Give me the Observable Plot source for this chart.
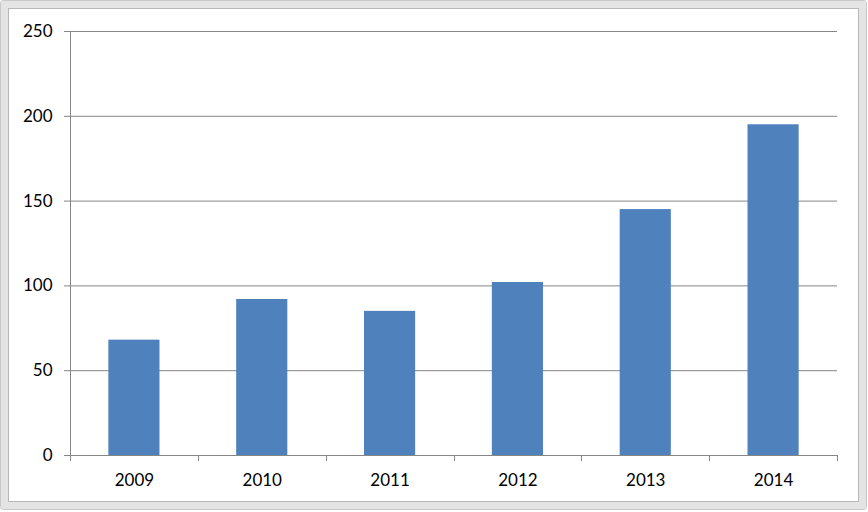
<!DOCTYPE html>
<html>
<head>
<meta charset="utf-8">
<script src="https://cdn.jsdelivr.net/npm/d3@7"></script>
<script src="https://cdn.jsdelivr.net/npm/@observablehq/plot@0.6"></script>
<style>
  html, body { margin: 0; padding: 0; background: #fff; }
  #wrap { position: relative; width: 868px; height: 512px; overflow: hidden; }
  #frame {
    position: absolute; left: 1px; top: 1px; width: 851px; height: 494px;
    border: 7px solid #e4e4e4; border-radius: 3px;
    box-shadow: 0 0 0 1px #c8c8c8, inset 0 0 0 1px #b8b8b8;
    pointer-events: none;
  }
</style>
</head>
<body>
<div id="wrap"><div id="chart"></div><div id="frame"></div></div>
<script>
const years = ["2009", "2010", "2011", "2012", "2013", "2014"];
const values = [68, 92, 85, 102, 145, 195];
const yTicks = [0, 50, 100, 150, 200, 250];

const data = years.map((year, i) => ({ year, value: values[i] }));
const axisColor = "#868686";

// tick marks at category boundaries, drawn from the band scale
function boundaryTicks(index, scales, values, dimensions) {
  const x = scales.x;
  const bw = typeof x.bandwidth === "function" ? x.bandwidth() : x.bandwidth;
  const step = typeof x.step === "function" ? x.step() : bw / 0.4;
  const gap = (step - bw) / 2;
  const y0 = dimensions.height - dimensions.marginBottom;
  const g = d3.create("svg:g");
  const positions = years.map(d => x(d) - gap);
  positions.push(positions[positions.length - 1] + step);
  for (const px of positions) {
    const p = Math.round(px) + 0.5;
    g.append("line")
      .attr("x1", p).attr("x2", p)
      .attr("y1", y0).attr("y2", y0 + 6)
      .attr("stroke", axisColor)
      .attr("stroke-width", 1);
  }
  return g.node();
}

const chart = Plot.plot({
  width: 868,
  height: 512,
  marginLeft: 70,
  marginRight: 31,
  marginTop: 31,
  marginBottom: 57,
  style: { fontFamily: "Lato, 'Open Sans', sans-serif", fontSize: "17px", color: "#000", background: "transparent" },
  x: { domain: years, paddingInner: 0.6, paddingOuter: 0.3, align: 0.5, round: false },
  y: { domain: [0, 250] },
  marks: [
    Plot.ruleY(yTicks.filter(d => d > 0), { stroke: axisColor, strokeWidth: 1 }),
    Plot.barY(data, { x: "year", y: "value", fill: "#4F81BD" }),
    Plot.ruleY([0], { stroke: axisColor }),
    Plot.frame({ anchor: "left", stroke: axisColor }),
    Plot.axisY({ ticks: yTicks, tickSize: 6, tickPadding: 12, stroke: axisColor, fill: "#000", label: null, fontSize: 17 }),
    Plot.axisX({ tickSize: 0, tickPadding: 18, fill: "#000", label: null, fontSize: 17 }),
    boundaryTicks
  ]
});
document.getElementById("chart").appendChild(chart);
</script>
</body>
</html>
